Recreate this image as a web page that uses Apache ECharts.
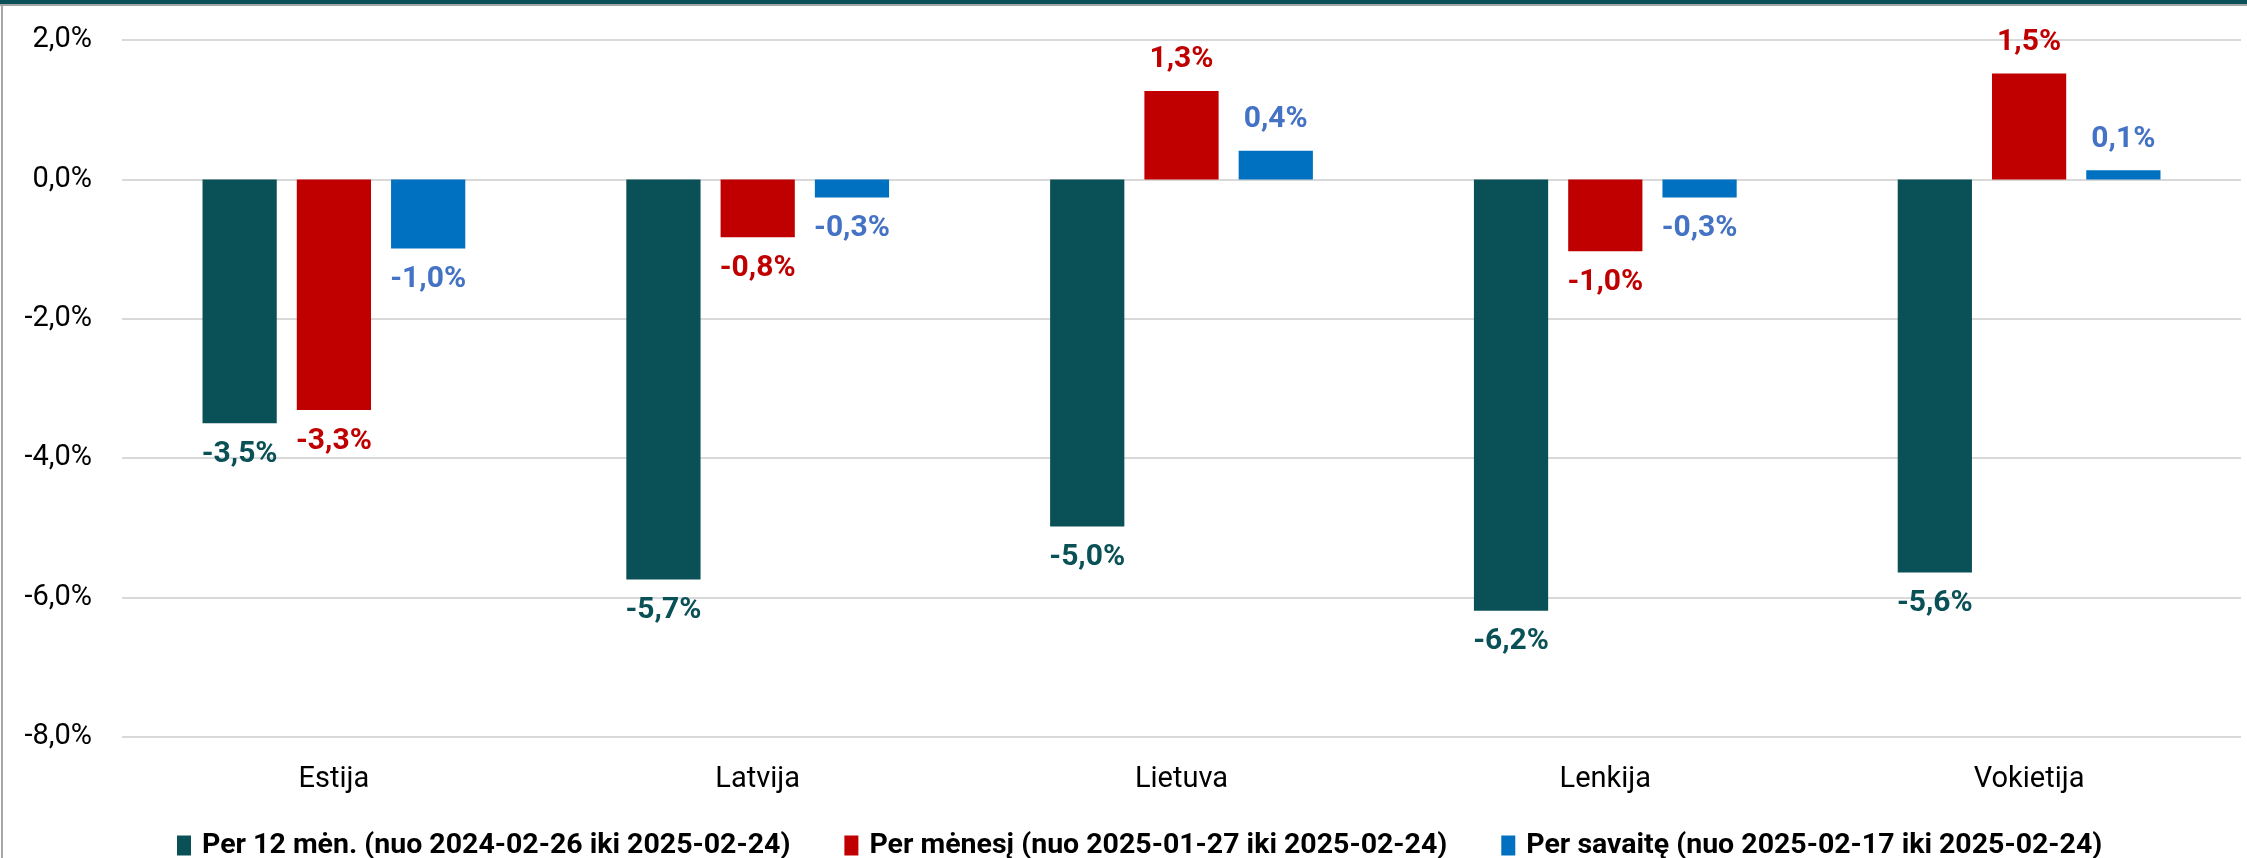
<!DOCTYPE html>
<html>
<head>
<meta charset="utf-8">
<script src="https://cdn.jsdelivr.net/npm/echarts@6/dist/echarts.min.js"></script>
<style>
html, body { margin: 0; padding: 0; background: #fff; }
#chart { width: 2247px; height: 858px; }
</style>
</head>
<body>
<div id="chart"></div>
<script>
var countries = ['Estija', 'Latvija', 'Lietuva', 'Lenkija', 'Vokietija'];
var seriesNames = [
    'Per 12 mėn. (nuo 2024-02-26 iki 2025-02-24)',
    'Per mėnesį (nuo 2025-01-27 iki 2025-02-24)',
    'Per savaitę (nuo 2025-02-17 iki 2025-02-24)'
];
var year = [-3.5, -5.74, -4.98, -6.19, -5.64];
var month = [-3.31, -0.83, 1.27, -1.03, 1.52];
var week = [-0.99, -0.26, 0.41, -0.26, 0.13];
var yTicks = [-8, -6, -4, -2, 0, 2];

var barColors = ['#0a5057', '#c00000', '#0070c0'];
var labelColors = ['#0a5057', '#c00000', '#4472c4'];
var font = 'Roboto, "Open Sans", sans-serif';

function pct(v) {
    return v.toFixed(1).replace('.', ',') + '%';
}

// negative bars get their label underneath
function makeData(arr) {
    return arr.map(function (v) {
        return { value: v, label: { position: v < 0 ? 'bottom' : 'top' } };
    });
}

var dom = document.getElementById('chart');
var myChart = echarts.init(dom);

var allData = [year, month, week];
var series = allData.map(function (arr, i) {
    return {
        name: seriesNames[i],
        type: 'bar',
        data: makeData(arr),
        barGap: '27%',
        barCategoryGap: '38%',
        itemStyle: { color: barColors[i] },
        label: {
            show: true,
            distance: 16,
            color: labelColors[i],
            fontFamily: font,
            fontWeight: 'bold',
            fontSize: 30,
            formatter: function (p) { return pct(p.value); }
        }
    };
});

var option = {
    backgroundColor: '#fff',
    animation: false,
    grid: { left: 122, right: 6, top: 40, bottom: 121 },
    legend: {
        left: 172,
        top: 826,
        itemWidth: 14,
        itemHeight: 20,
        itemGap: 54,
        icon: 'rect',
        textStyle: {
            fontFamily: font,
            fontWeight: 'bold',
            fontSize: 28.5,
            color: '#000',
            padding: [0, 0, 0, 6]
        },
        data: seriesNames
    },
    xAxis: {
        type: 'category',
        data: countries,
        position: 'bottom',
        axisLine: { show: false, onZero: false },
        axisTick: { show: false },
        axisLabel: { margin: 28, fontFamily: font, fontSize: 29, color: '#000' }
    },
    yAxis: {
        type: 'value',
        min: yTicks[0],
        max: yTicks[yTicks.length - 1],
        interval: 2,
        axisLine: { show: false },
        axisTick: { show: false },
        splitLine: { lineStyle: { color: '#d9d9d9', width: 2 } },
        axisLabel: {
            margin: 30,
            fontFamily: font,
            fontSize: 29,
            color: '#000',
            formatter: function (v) { return pct(v); }
        }
    },
    graphic: [
        { type: 'rect', shape: { x: 0, y: 0, width: 2247, height: 4 }, style: { fill: '#0a5057' } },
        { type: 'rect', shape: { x: 0, y: 4, width: 2247, height: 2 }, style: { fill: '#a6a6a6' } },
        { type: 'rect', shape: { x: 1, y: 4, width: 2, height: 854 }, style: { fill: '#a6a6a6' } }
    ],
    series: series
};

if (option && typeof option === 'object') {
    myChart.setOption(option, true);
}
window.onresize = function () {
    myChart.resize();
};
</script>
</body>
</html>
